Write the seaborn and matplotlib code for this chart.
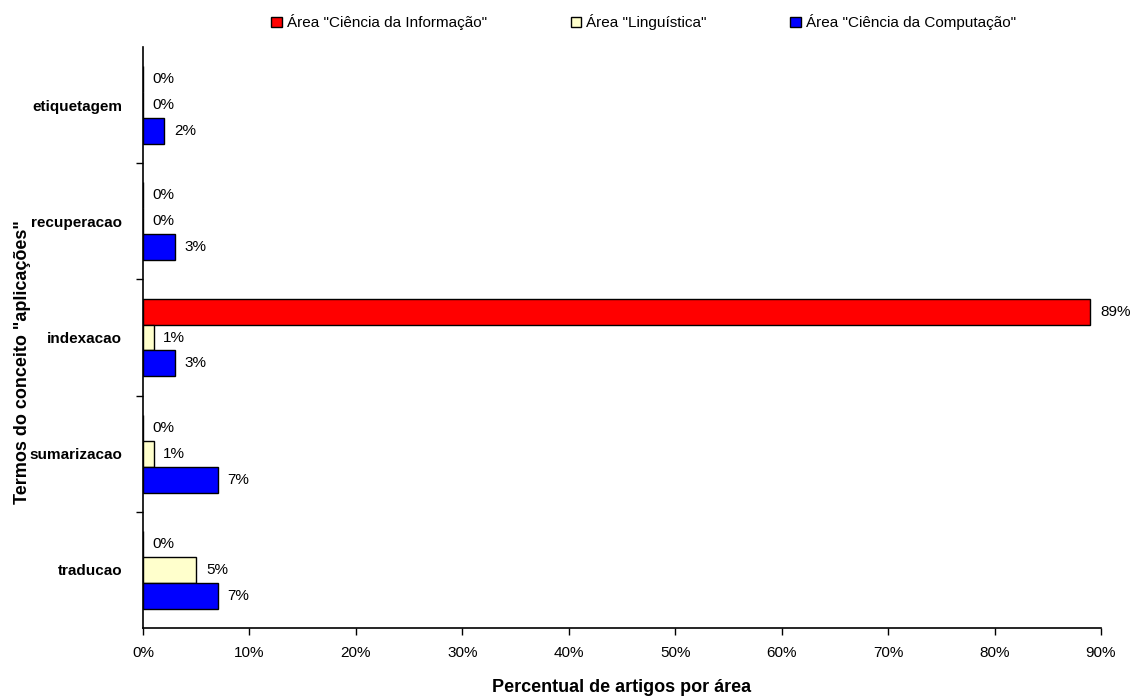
import matplotlib
matplotlib.use("Agg")
import matplotlib.pyplot as plt
import seaborn as sns
import pandas as pd
from matplotlib.ticker import FixedLocator, PercentFormatter

terms = ["etiquetagem", "recuperacao", "indexacao", "sumarizacao", "traducao"]
areas = ['Área "Ciência da Informação"', 'Área "Linguística"', 'Área "Ciência da Computação"']
ciencia_informacao = [0, 0, 89, 0, 0]
linguistica = [0, 0, 1, 1, 5]
ciencia_computacao = [2, 3, 3, 7, 7]
colors = ["#FF0000", "#FFFFCC", "#0000FF"]
x_ticks = [0, 10, 20, 30, 40, 50, 60, 70, 80, 90]

rows = []
for area, vals in zip(areas, [ciencia_informacao, linguistica, ciencia_computacao]):
    for term, v in zip(terms, vals):
        rows.append({"termo": term, "area": area, "pct": v})
df = pd.DataFrame(rows)

sns.set_theme(style="white")
plt.rcParams["font.family"] = ["Liberation Sans", "DejaVu Sans"]

fig = plt.figure(figsize=(11.33, 6.98), dpi=100)
ax = fig.add_axes([143 / 1133, 1 - 628 / 698, (1101 - 143) / 1133, (628 - 47) / 698])

sns.barplot(data=df, x="pct", y="termo", hue="area", order=terms, hue_order=areas,
            palette=colors, orient="h", width=0.67, edgecolor="black", linewidth=1,
            saturation=1, ax=ax, legend=True)

# value labels next to each bar
for cont, vals in zip(ax.containers, [ciencia_informacao, linguistica, ciencia_computacao]):
    ax.bar_label(cont, labels=[f"{v}%" for v in vals], padding=7, fontsize=11,
                 color="black")

ax.set_xlim(0, 90)
ax.set_ylim(4.5, -0.5)
ax.xaxis.set_major_locator(FixedLocator(x_ticks))
ax.xaxis.set_major_formatter(PercentFormatter(decimals=0))
ax.tick_params(axis="x", which="major", bottom=True, length=5, width=1, color="black",
               labelsize=11, labelcolor="black", pad=8, direction="out")
ax.tick_params(axis="y", which="major", left=False, length=0, labelsize=11,
               labelcolor="black", pad=15)
for lbl in ax.get_yticklabels():
    lbl.set_fontweight("bold")
# tick marks between the category groups
ax.yaxis.set_minor_locator(FixedLocator([0.5, 1.5, 2.5, 3.5]))
ax.tick_params(axis="y", which="minor", left=True, length=5, width=1, color="black",
               direction="out")

for side in ["top", "right"]:
    ax.spines[side].set_visible(False)
for side in ["left", "bottom"]:
    ax.spines[side].set_color("black")
    ax.spines[side].set_linewidth(1.2)

ax.set_xlabel("Percentual de artigos por área", fontsize=13, fontweight="bold",
              color="black", va="center")
ax.xaxis.set_label_coords(0.5, (628 - 687) / 581)
ax.set_ylabel('Termos do conceito "aplicações"', fontsize=13, fontweight="bold",
              color="black", va="center")
ax.yaxis.set_label_coords((22 - 143) / 958, (628 - 362) / 581)

handles, labels = ax.get_legend_handles_labels()
ax.get_legend().remove()
fig.legend(handles, labels, loc="center", bbox_to_anchor=(0.568, 0.968), ncol=3,
           frameon=False, fontsize=11, handlelength=0.7, handleheight=0.7,
           handletextpad=0.3, columnspacing=5.5, labelcolor="black")

fig.savefig("out.png", dpi=100, facecolor="white")
